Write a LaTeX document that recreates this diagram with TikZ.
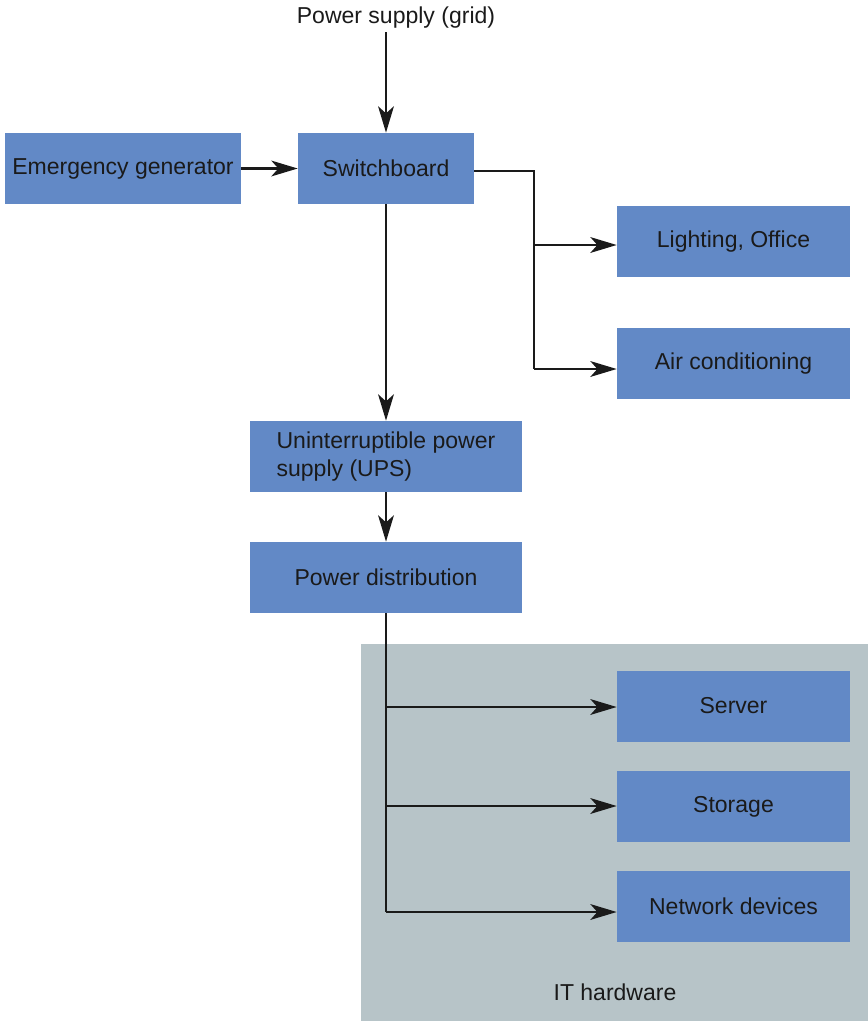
\documentclass[tikz,border=0pt]{standalone}
\usepackage{fontspec}
\setmainfont{Liberation Sans}
\usetikzlibrary{arrows.meta}
\definecolor{boxblue}{RGB}{98,137,198}
\definecolor{itgray}{RGB}{183,196,200}
\definecolor{inkgray}{RGB}{26,26,26}

\begin{document}
\begin{tikzpicture}[x = 0.02cm, y = -0.02cm, font = \fontsize{13.1}{15.9}\selectfont, text = inkgray,
  box/.style = {fill = boxblue, minimum height = 1.42cm, inner sep = 0pt},
  wire/.style = {line width = 1.15pt, draw = inkgray},
  link/.style = {wire, -{Stealth[length = 15pt, width = 9pt, inset = 4pt]}}]

\useasboundingbox (0,0) rectangle (868,1021);
\fill [itgray] (361,644) rectangle (868,1021);

\node (v0) at (396,18) {Power supply (grid)};
\coordinate (c0) at (386,32);
\node [box, minimum width = 4.72cm] (v1) at (123,168.5) {Emergency generator};
\node [box, minimum width = 3.52cm] (v2) at (386,168.5) {Switchboard};
\node [box, minimum width = 4.66cm] (v3) at (733.5,241.5) {Lighting, Office};
\node [box, minimum width = 4.66cm] (v4) at (733.5,363.5) {Air conditioning};
\node [box, minimum width = 5.46cm, align = left] (v5) at (386,456.5) {Uninterruptible power\\supply (UPS)};
\node [box, minimum width = 5.46cm] (v6) at (386,577.5) {Power distribution};

\node [box, minimum width = 4.66cm] (v7) at (733.5,706) {Server};
\node [box, minimum width = 4.66cm] (v8) at (733.5,806.5) {Storage};
\node [box, minimum width = 4.66cm] (v9) at (733.5,906.5) {Network devices};
\node (v10) at (615,992) {IT hardware};

\coordinate (c1) at (474,171);
\coordinate (j1) at (534,245);
\coordinate (j2) at (534,369);
\coordinate (j3) at (386,707);
\coordinate (j4) at (386,806);
\coordinate (j5) at (386,912);

\draw [link] (c0) -- (v2);
\draw [link] (v1) -- (v2);
\draw [wire] (c1) -| (j2);
\draw [link] (j1) -- (j1 -| v3.west);
\draw [link] (j2) -- (j2 -| v4.west);
\draw [link] (v2) -- (v5);
\draw [link] (v5) -- (v6);
\draw [wire] (v6.south) -- (j5);
\draw [link] (j3) -- (j3 -| v7.west);
\draw [link] (j4) -- (j4 -| v8.west);
\draw [link] (j5) -- (j5 -| v9.west);
\end{tikzpicture}
\end{document}
